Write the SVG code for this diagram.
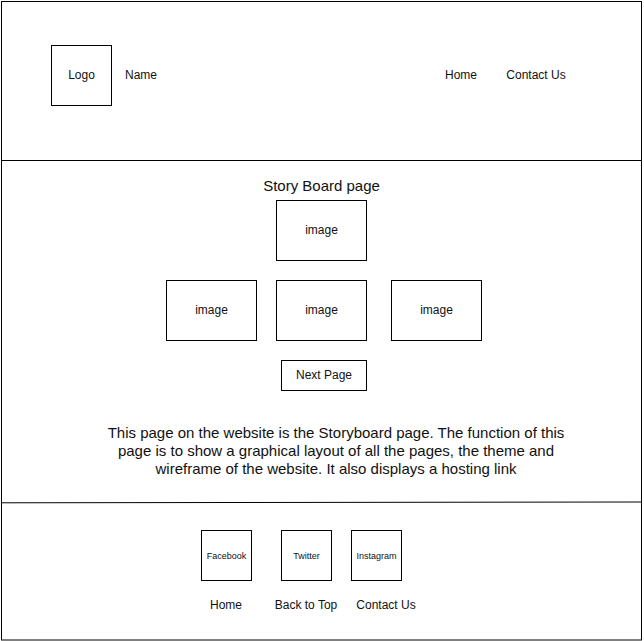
<svg xmlns="http://www.w3.org/2000/svg" width="644" height="641" viewBox="0 0 644 641">
<style>
.box{fill:#fff;stroke:#000;stroke-width:1}
.ln{fill:none;stroke:#000;stroke-width:1}
text{font-family:"Liberation Sans",Arial,sans-serif;fill:#111;text-anchor:middle}
.t12{font-size:12px}
.t15{font-size:15px}
.t9{font-size:9px}
</style>
<rect x="0" y="0" width="644" height="641" fill="#fff"/>
<g id="frame">
<rect class="box" x="1.5" y="1.5" width="640" height="638.5"/>
<line class="ln" x1="1.5" y1="160.5" x2="641.5" y2="160.5"/>
<line class="ln" x1="1.5" y1="502.8" x2="641.5" y2="502" stroke="#333" stroke-width="1.3"/>
</g>
<g id="logo"><rect class="box" x="51.5" y="45.5" width="60" height="60"/><text class="t12" x="81.5" y="79">Logo</text></g>
<g id="name"><text class="t12" x="141" y="79">Name</text></g>
<g id="nav-home"><text class="t12" x="461" y="79">Home</text></g>
<g id="nav-contact"><text class="t12" x="536" y="79">Contact Us</text></g>
<g id="title"><text class="t15" x="321.5" y="191">Story Board page</text></g>
<g id="image-top"><rect class="box" x="276.5" y="200.5" width="90" height="60"/><text class="t12" x="321.5" y="234">image</text></g>
<g id="image-left"><rect class="box" x="166.5" y="280.5" width="90" height="60"/><text class="t12" x="211.5" y="314">image</text></g>
<g id="image-mid"><rect class="box" x="276.5" y="280.5" width="90" height="60"/><text class="t12" x="321.5" y="314">image</text></g>
<g id="image-right"><rect class="box" x="391.5" y="280.5" width="90" height="60"/><text class="t12" x="436.5" y="314">image</text></g>
<g id="next-page"><rect class="box" x="281.5" y="360.5" width="85" height="30"/><text class="t12" x="324" y="379">Next Page</text></g>
<g id="description">
<text class="t15" x="336" y="438">This page on the website is the Storyboard page. The function of this</text>
<text class="t15" x="336" y="456">page is to show a graphical layout of all the pages, the theme and</text>
<text class="t15" x="336" y="474">wireframe of the website. It also displays a hosting link</text>
</g>
<g id="facebook"><rect class="box" x="201.5" y="530.5" width="50" height="50"/><text class="t9" x="226.5" y="559">Facebook</text></g>
<g id="twitter"><rect class="box" x="281.5" y="530.5" width="50" height="50"/><text class="t9" x="306.5" y="559">Twitter</text></g>
<g id="instagram"><rect class="box" x="351.5" y="530.5" width="50" height="50"/><text class="t9" x="376.5" y="559">Instagram</text></g>
<g id="foot-home"><text class="t12" x="226" y="609">Home</text></g>
<g id="foot-top"><text class="t12" x="306" y="609">Back to Top</text></g>
<g id="foot-contact"><text class="t12" x="386" y="609">Contact Us</text></g>
<g id="connectors"></g>
</svg>
